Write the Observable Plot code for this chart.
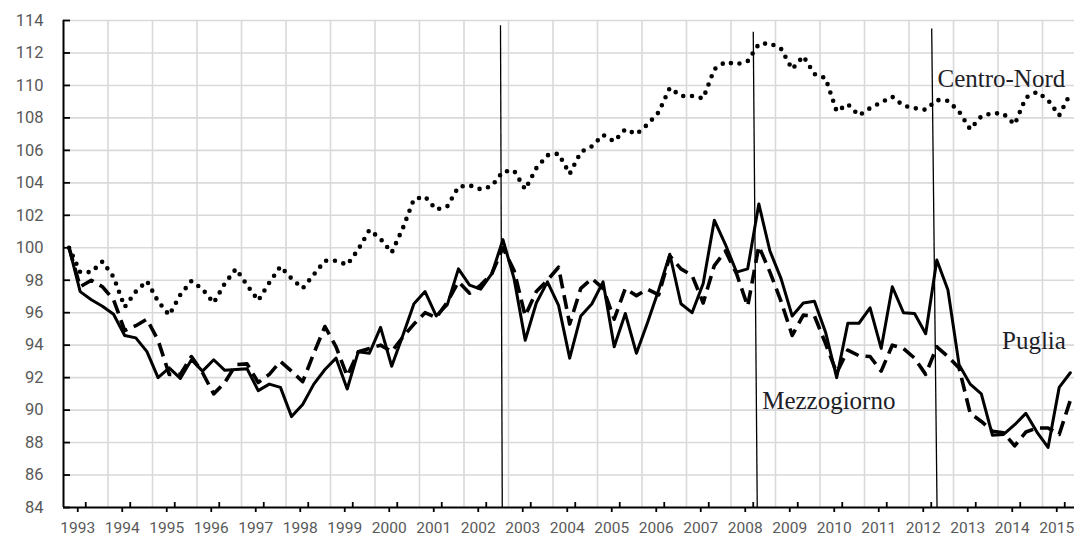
<!DOCTYPE html>
<html><head><meta charset="utf-8">
<script src="https://cdn.jsdelivr.net/npm/d3@7"></script>
<script src="https://cdn.jsdelivr.net/npm/@observablehq/plot@0.6"></script>
<style>body{margin:0;background:#fff}</style>
</head><body><div id="chart"></div>
<script>
// quarterly series, first value = 1993 Q1
const startYear = 1993;
const years = d3.range(1993, 2016);
const yTicks = d3.range(84, 115, 2);

const puglia = [100.0, 97.3, 96.8, 96.4, 95.9, 94.6, 94.45, 93.6, 92.0, 92.6, 91.95, 93.1, 92.4, 93.1, 92.45, 92.5,
  92.55, 91.2, 91.6, 91.4, 89.6, 90.35, 91.6, 92.5, 93.2, 91.3, 93.6, 93.5, 95.1, 92.7, 94.6, 96.55,
  97.3, 95.8, 96.5, 98.7, 97.7, 97.45, 98.4, 100.5, 98.1, 94.3, 96.6, 97.9, 96.45, 93.2, 95.8, 96.55,
  97.9, 93.9, 95.95, 93.5, 95.4, 97.4, 99.6, 96.55, 96.0, 97.8, 101.7, 100.2, 98.5, 98.7, 102.7, 99.8,
  98.1, 95.8, 96.6, 96.7, 94.8, 92.0, 95.35, 95.35, 96.3, 93.8, 97.6, 96.0, 95.95, 94.7, 99.25, 97.4,
  92.8, 91.6, 91.0, 88.45, 88.5, 89.1, 89.8, 88.65, 87.7, 91.4, 92.3];

const mezzogiorno = [100.0, 97.6, 98.0, 97.6, 96.8, 94.9, 95.2, 95.6, 94.3, 92.2, 92.2, 93.3, 92.3, 91.0, 91.7, 92.8,
  92.85, 91.7, 92.2, 93.0, 92.4, 91.75, 93.5, 95.15, 93.9, 92.1, 93.6, 93.8, 94.0, 93.6, 94.5, 95.3,
  96.0, 95.7, 96.65, 97.9, 97.2, 97.7, 98.4, 100.0, 98.6, 95.8, 97.3, 98.0, 98.8, 95.3, 97.5, 98.1,
  97.5, 95.6, 97.5, 97.05, 97.45, 97.1, 99.5, 98.7, 98.3, 96.6, 98.9, 99.8, 98.4, 96.4, 100.1, 98.5,
  96.7, 94.6, 95.85, 95.8, 94.1, 92.3, 93.7, 93.35, 93.3, 92.4, 94.0, 93.8, 93.2, 92.2, 93.9, 93.3,
  92.6, 89.8, 89.3, 88.7, 88.6, 87.8, 88.65, 88.9, 88.9, 88.5, 90.6];

const centroNord = [100.0, 98.5, 98.5, 99.15, 98.2, 96.35, 97.3, 97.95, 96.7, 95.85, 97.1, 97.95, 97.45, 96.6, 97.8, 98.7,
  97.7, 96.75, 97.85, 98.85, 98.1, 97.5, 98.35, 99.2, 99.2, 98.95, 99.9, 101.1, 100.55, 99.7, 101.2, 103.0,
  103.15, 102.35, 102.55, 103.75, 103.85, 103.6, 103.8, 104.7, 104.75, 103.6, 104.9, 105.7, 105.8, 104.55, 105.9, 106.25,
  106.95, 106.55, 107.3, 107.0, 107.6, 108.35, 109.85, 109.35, 109.35, 109.2, 111.0, 111.45, 111.3, 111.5, 112.55, 112.6,
  112.25, 111.0, 111.8, 110.7, 110.45, 108.4, 108.85, 108.15, 108.6, 108.95, 109.3, 108.75, 108.6, 108.5, 109.1, 109.05,
  108.4, 107.3, 108.1, 108.3, 108.25, 107.6, 109.25, 109.6, 109.1, 108.15, 109.5];

// annotation vertical lines (year position at top / bottom, top value)
const markerTop = [113.7, 113.3, 113.5];
const markerXTop = [2002.82, 2008.50, 2012.51];
const markerXBottom = [2002.86, 2008.59, 2012.63];

// series labels
const labelNames = ["Centro-Nord", "Mezzogiorno", "Puglia"];
const labelX = [2012.64, 2008.70, 2014.09];
const labelY = [110.38, 90.53, 94.27];

const rows = (arr) => arr.map((v, i) => ({t: startYear + (i + 0.5) / 4, v}));
const markers = markerTop.map((top, i) => ({top, x1: markerXTop[i], x2: markerXBottom[i]}));
const labels = labelNames.map((name, i) => ({name, x: labelX[i], y: labelY[i]}));

const W = 1074, H = 538, ML = 63, MR = 0, MT = 20, MB = 31;
const pxPerYear = 44.5;

const chart = Plot.plot({
  width: W, height: H,
  marginLeft: ML, marginRight: MR, marginTop: MT, marginBottom: MB,
  style: {fontFamily: "Roboto, sans-serif", fontSize: "15.5px", background: "#fff"},
  x: {domain: [1993, 1993 + (W - ML - MR) / pxPerYear]},
  y: {domain: [84, 114]},
  marks: [
    Plot.ruleY(yTicks.slice(1), {stroke: "#d9d9d9", strokeWidth: 1.6}),
    Plot.ruleX(years.slice(1), {stroke: "#d9d9d9", strokeWidth: 1.6}),
    Plot.line(rows(centroNord), {x: "t", y: "v", stroke: "#000", strokeWidth: 4.6, strokeDasharray: "0,8.8", strokeLinecap: "round"}),
    Plot.line(rows(mezzogiorno), {x: "t", y: "v", stroke: "#000", strokeWidth: 3.6, strokeDasharray: "14,7", strokeLinecap: "butt"}),
    Plot.line(rows(puglia), {x: "t", y: "v", stroke: "#000", strokeWidth: 3}),
    Plot.link(markers, {x1: "x1", y1: "top", x2: "x2", y2: () => 84, stroke: "#000", strokeWidth: 1.3}),
    Plot.ruleX([1993], {stroke: "#000", strokeWidth: 2}),
    Plot.ruleY([84], {stroke: "#000", strokeWidth: 2}),
    Plot.axisY({ticks: yTicks, tickSize: 0, tickPadding: 20, fontSize: 16.5, fill: "#595959"}),
    Plot.tickY(yTicks, {y: d => d, insetRight: W - ML - MR - 7, stroke: "#000", strokeWidth: 1.8}),
    Plot.axisX({ticks: years.map(y => y + 0.5), tickFormat: d => String(Math.floor(d)), tickSize: 5, tickPadding: 9, dx: -8, stroke: "#000", strokeWidth: 1.8, fill: "#595959"}),
    Plot.tickX(years, {x: d => d + 0.5, insetTop: H - MT - MB - 5, stroke: "#000", strokeWidth: 1.8}),
    Plot.text(labels, {x: "x", y: "y", text: "name", textAnchor: "start", fontFamily: "Liberation Serif, serif", fontSize: 25, fill: "#1e1e28"})
  ]
});
document.getElementById("chart").appendChild(chart);
</script>
</body></html>
